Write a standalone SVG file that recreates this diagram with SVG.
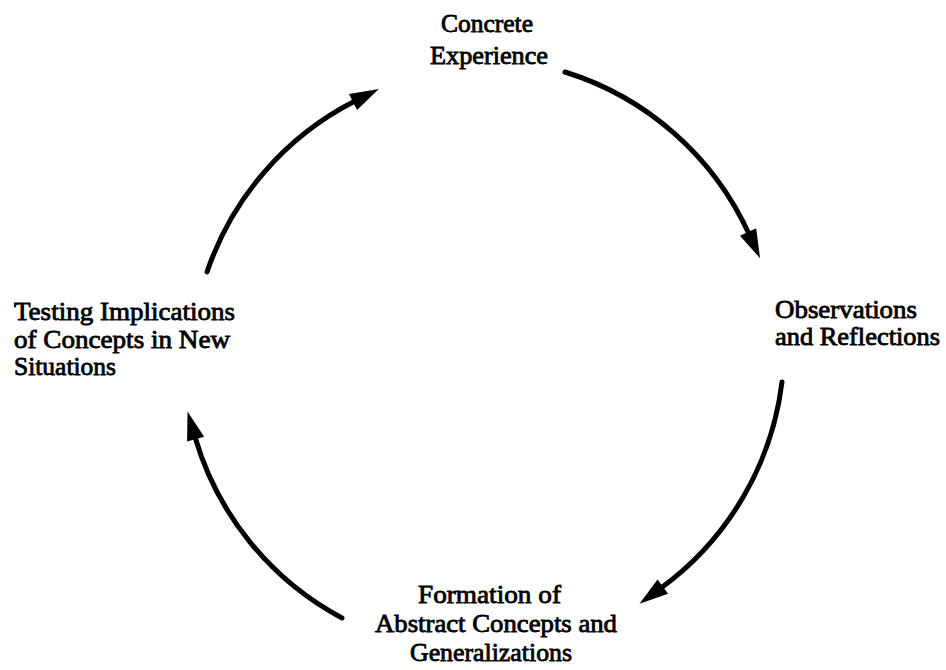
<svg xmlns="http://www.w3.org/2000/svg" width="946" height="670" viewBox="0 0 946 670">
<style>
  .lbl { font-family: "Liberation Serif", "Times New Roman", serif; font-size: 25px; fill: #000; stroke: #000; stroke-width: 0.8px; }
  .arc { fill: none; stroke: #000; stroke-width: 5; stroke-linecap: round; }
</style>
<defs>
  <marker id="head" markerUnits="userSpaceOnUse" markerWidth="40" markerHeight="30" viewBox="-4 -12 36 24" refX="2" refY="0" orient="auto">
    <path d="M0,-8 L26,0 L0,8 z" fill="#000"/>
  </marker>
</defs>
<rect width="946" height="670" fill="#fff"/>
<g id="connectors">
  <path class="arc" d="M565,72 A300,300 0 0 1 749,234" marker-end="url(#head)"/>
  <path class="arc" d="M782,382 A300,300 0 0 1 661,588" marker-end="url(#head)"/>
  <path class="arc" d="M342,618 A300,300 0 0 1 195,437" marker-end="url(#head)"/>
  <path class="arc" d="M207,272 A300,300 0 0 1 355,101" marker-end="url(#head)"/>
</g>
<g id="concrete-experience">
  <text class="lbl" x="441" y="32" textLength="92" lengthAdjust="spacingAndGlyphs">Concrete</text>
  <text class="lbl" x="430" y="64" textLength="118" lengthAdjust="spacingAndGlyphs">Experience</text>
</g>
<g id="observations-reflections">
  <text class="lbl" x="775" y="318" textLength="142" lengthAdjust="spacingAndGlyphs">Observations</text>
  <text class="lbl" x="775" y="345" textLength="165" lengthAdjust="spacingAndGlyphs">and Reflections</text>
</g>
<g id="abstract-concepts">
  <text class="lbl" x="418" y="603" textLength="143" lengthAdjust="spacingAndGlyphs">Formation of</text>
  <text class="lbl" x="375" y="632" textLength="242" lengthAdjust="spacingAndGlyphs">Abstract Concepts and</text>
  <text class="lbl" x="410" y="661" textLength="162" lengthAdjust="spacingAndGlyphs">Generalizations</text>
</g>
<g id="testing-implications">
  <text class="lbl" x="14" y="320" textLength="221" lengthAdjust="spacingAndGlyphs">Testing Implications</text>
  <text class="lbl" x="14" y="348" textLength="216" lengthAdjust="spacingAndGlyphs">of Concepts in New</text>
  <text class="lbl" x="14" y="375" textLength="102" lengthAdjust="spacingAndGlyphs">Situations</text>
</g>
</svg>
